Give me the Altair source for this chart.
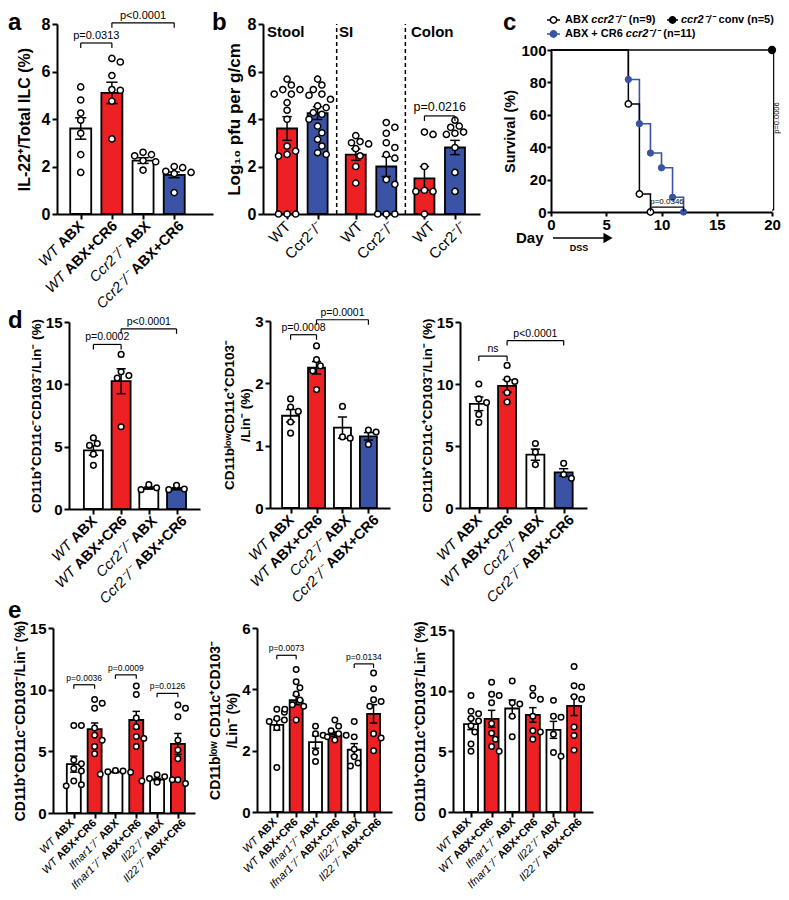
import math
import altair as alt
import pandas as pd

FONT = "Liberation Sans"
CW, CH = 773, 884
M = 8  # page margin: reference pixel -> chart pixel

RED = "#ED2024"
BLUE = "#3A53A4"
FILLS = {"w": "#FFFFFF", "r": RED, "b": BLUE}

# ====================== DATA ======================
# panel a
a_geno = ["WT", "WT", "Ccr2⁻/⁻", "Ccr2⁻/⁻"]
a_treat = ["ABX", "ABX+CR6", "ABX", "ABX+CR6"]
a_fill = ["w", "r", "w", "b"]
a_mean = [3.6, 5.1, 2.25, 1.65]
a_sem = [0.45, 0.45, 0.12, 0.12]
a_pts = [[5.35, 4.8, 4.25, 3.95, 3.4, 2.5, 1.75],
         [6.55, 6.4, 5.83, 5.24, 5.21, 4.75, 3.16],
         [2.6, 2.5, 2.45, 2.25, 2.2, 1.85],
         [2.0, 1.95, 1.8, 1.75, 1.7, 0.9]]
a_brk = [(0, 1, 7.2, "p=0.0313"), (1, 3, 8.05, "p<0.0001")]

# panel b
b_sites = ["Stool", "SI", "Colon"]
b_geno = ["WT", "Ccr2⁻/⁻", "WT", "Ccr2⁻/⁻", "WT", "Ccr2⁻/⁻"]
b_fill = ["r", "b", "r", "b", "r", "b"]
b_mean = [3.6, 4.25, 2.5, 2.0, 1.5, 2.8]
b_sem = [0.5, 0.27, 0.24, 0.42, 0.5, 0.3]
b_pts = [[5.68, 5.43, 5.24, 5.24, 5.05, 5.05, 4.69, 4.37, 3.99, 2.86, 2.65, 2.51, 2.44, 0, 0, 0],
         [5.68, 5.43, 5.24, 5.05, 5.0, 4.83, 4.55, 4.48, 4.27, 4.2, 3.99, 3.7, 3.42, 3.14, 2.86, 2.58, 2.51],
         [3.3, 3.05, 3.0, 2.95, 2.75, 2.45, 2.0, 1.3],
         [3.85, 3.65, 3.4, 3.0, 2.8, 2.5, 2.35, 1.45, 1.25, 0, 0, 0],
         [3.45, 3.35, 2.0, 1.0, 0.95, 0.95, 0],
         [3.95, 3.7, 3.65, 3.45, 3.4, 3.35, 2.8, 1.75, 0.95]]
b_brk = [(4, 5, 4.13, "p=0.0216")]

# panel c (survival, %)
c_abx_day = [0, 7, 8, 9]
c_abx_surv = [100, 66.7, 11.1, 0]
c_cr6_day = [0, 7, 8, 9, 10, 11, 12]
c_cr6_surv = [100, 81.8, 54.5, 36.4, 27.3, 9.1, 0]
c_conv_day = [0, 20]
c_conv_surv = [100, 100]

# panel d
d_geno = ["WT", "WT", "Ccr2⁻/⁻", "Ccr2⁻/⁻"]
d_treat = ["ABX", "ABX+CR6", "ABX", "ABX+CR6"]
d_fill = ["w", "r", "w", "b"]
d1_mean = [4.7, 10.25, 1.68, 1.62]
d1_sem = [0.38, 1.0, 0.09, 0.08]
d1_pts = [[5.7, 5.25, 5.1, 4.4, 3.5], [12.4, 11.0, 10.7, 10.5, 6.6],
          [1.95, 1.7, 1.55], [1.9, 1.6, 1.55]]
d1_brk = [(0, 1, 13.2, "p=0.0002"), (1, 3, 14.45, "p<0.0001")]
d2_mean = [1.48, 2.25, 1.29, 1.15]
d2_sem = [0.1, 0.1, 0.17, 0.06]
d2_pts = [[1.75, 1.62, 1.55, 1.38, 1.2], [2.6, 2.38, 2.28, 2.2, 1.9],
          [1.63, 1.14, 1.12], [1.25, 1.22, 1.02]]
d2_brk = [(0, 1, 2.78, "p=0.0008"), (1, 3, 3.02, "p=0.0001")]
d3_mean = [8.4, 9.85, 4.3, 2.87]
d3_sem = [0.55, 0.5, 0.45, 0.3]
d3_pts = [[10.0, 8.8, 8.5, 7.55, 6.9], [11.5, 10.4, 10.2, 9.3, 8.55],
          [5.2, 4.5, 3.5], [3.6, 2.7, 2.4]]
d3_brk = [(0, 1, 12.25, "ns"), (1, 3, 13.5, "p<0.0001")]

# panel e
e_geno = ["WT", "WT", "Ifnar1⁻/⁻", "Ifnar1⁻/⁻", "Il22⁻/⁻", "Il22⁻/⁻"]
e_treat = ["ABX", "ABX+CR6", "ABX", "ABX+CR6", "ABX", "ABX+CR6"]
e_fill = ["w", "r", "w", "r", "w", "r"]
e1_mean = [3.96, 6.8, 3.34, 7.54, 2.71, 5.6]
e1_sem = [0.65, 0.5, 0.08, 0.7, 0.1, 0.85]
e1_pts = [[7.1, 7.1, 4.3, 4.0, 3.6, 3.4, 2.6, 2.3, 2.2],
          [9.2, 8.9, 8.5, 6.9, 6.3, 5.9, 5.4, 4.8],
          [3.45, 3.4, 3.35, 3.3, 3.15],
          [10.3, 9.6, 7.7, 7.0, 6.2, 6.05, 5.4],
          [3.1, 2.95, 2.8, 2.7, 2.6, 2.5],
          [8.75, 8.5, 7.8, 5.9, 5.1, 4.4, 2.7, 2.4]]
e1_brk = [(0, 1, 10.4, "p=0.0036"), (2, 3, 11.2, "p=0.0009"), (4, 5, 9.7, "p=0.0126")]
e2_mean = [2.84, 3.65, 2.28, 2.54, 2.03, 3.2]
e2_sem = [0.17, 0.15, 0.2, 0.07, 0.2, 0.3]
e2_pts = [[3.35, 3.25, 3.05, 3.0, 2.95, 2.75, 1.45],
          [4.65, 4.25, 4.05, 3.85, 3.65, 3.5, 3.45, 3.35, 3.0],
          [2.8, 2.55, 2.5, 1.95, 1.65],
          [3.0, 2.8, 2.65, 2.55, 2.5, 2.45, 2.35],
          [2.95, 2.45, 2.05, 1.8, 1.6, 1.5],
          [4.53, 4.02, 3.66, 3.6, 3.45, 2.55, 2.41, 2.0]]
e2_brk = [(0, 1, 5.11, "p=0.0073"), (4, 5, 4.83, "p=0.0134")]
e3_mean = [7.24, 7.68, 8.53, 8.0, 6.77, 8.75]
e3_sem = [0.45, 0.7, 0.7, 0.6, 0.7, 0.8]
e3_pts = [[9.6, 8.3, 8.1, 7.7, 7.5, 7.1, 6.6, 5.6, 5.0],
          [10.7, 9.7, 9.6, 9.0, 7.3, 6.5, 6.0, 5.4, 5.0],
          [10.8, 9.0, 8.9, 7.9, 6.2],
          [10.2, 9.6, 9.3, 7.9, 6.7, 6.6, 6.0],
          [9.2, 7.9, 7.8, 6.4, 4.9, 4.6],
          [12.0, 10.4, 10.3, 9.5, 9.3, 7.0, 6.3, 5.1]]
e3_brk = []

# ====================== LAYOUT (reference pixels) ======================
LA = dict(ax=57, end=213, c0=77, sp=33.3, y0=214, yt=24, ymax=8, ticks=[0, 2, 4, 6, 8],
          bw=21, cap=12, diam=7.5, psize=38, leg=5, lfs=16, pfs=11, xfs=14.5, tfs=16, tpad=9)
LB = dict(ax=263, end=480, c0=283, sp=32, y0=214, yt=24, ymax=8, ticks=[0, 2, 4, 6, 8],
          bw=20, cap=10, diam=7.5, psize=38, leg=5, lfs=16, pfs=12.5, xfs=15, tfs=17, tpad=4)
LD1 = dict(ax=69, end=200, c0=90, sp=30, y0=509, yt=322, ymax=15, ticks=[0, 5, 10, 15],
           bw=19, cap=10, diam=7, psize=32, leg=5, lfs=15, pfs=10.5, xfs=14.5, tfs=13.5, tpad=2)
LD2 = dict(ax=270, end=390, c0=287, sp=28.3, y0=508, yt=321, ymax=3, ticks=[0, 1, 2, 3],
           bw=17, cap=10, diam=7, psize=32, leg=5, lfs=15, pfs=10.5, xfs=14.5, tfs=13.5, tpad=2)
LD3 = dict(ax=460, end=587, c0=475, sp=30.7, y0=508, yt=322, ymax=15, ticks=[0, 5, 10, 15],
           bw=18, cap=10, diam=7, psize=32, leg=5, lfs=15, pfs=10.5, xfs=14.5, tfs=13.5, tpad=2)
LE1 = dict(ax=53, end=195, c0=70, sp=22.4, y0=813, yt=628, ymax=15, ticks=[0, 5, 10, 15],
           bw=14, cap=8, diam=6.8, psize=30, leg=4, lfs=15, pfs=8.5, xfs=11, tfs=14, tpad=2)
LE2 = dict(ax=257, end=392, c0=273, sp=20.9, y0=812, yt=628, ymax=6, ticks=[0, 2, 4, 6],
           bw=13, cap=8, diam=6.8, psize=30, leg=4, lfs=15, pfs=8.5, xfs=11, tfs=14, tpad=2)
LE3 = dict(ax=453, end=593, c0=467, sp=22.2, y0=812, yt=630, ymax=15, ticks=[0, 5, 10, 15],
           bw=14, cap=8, diam=6.8, psize=30, leg=4, lfs=15, pfs=8.5, xfs=11, tfs=14, tpad=2)

C45 = math.cos(math.radians(45))

REG_W = {' ': 278, '(': 333, ')': 333, '+': 584, '-': 333, '.': 278, '/': 278, '=': 584,
         '<': 584, '%': 889, 'A': 667, 'B': 667, 'C': 722, 'D': 722, 'I': 278, 'L': 556,
         'R': 722, 'S': 667, 'T': 611, 'W': 944, 'X': 667, 'a': 556, 'b': 556, 'c': 500,
         'e': 556, 'f': 278, 'g': 556, 'i': 222, 'l': 222, 'm': 833, 'n': 556, 'o': 556,
         'p': 556, 'r': 333, 's': 500, 't': 278, 'u': 556, 'v': 500, 'w': 722, 'y': 500,
         '⁻': 400, '⁺': 400}
BOLD_W = {' ': 278, '(': 333, ')': 333, '+': 584, '-': 333, '.': 278, '/': 278, '=': 584,
          '<': 584, '%': 889, 'A': 722, 'B': 722, 'C': 722, 'D': 722, 'I': 278, 'L': 611,
          'R': 722, 'S': 667, 'T': 611, 'W': 944, 'X': 667, 'a': 556, 'b': 611, 'c': 556,
          'e': 556, 'f': 333, 'g': 611, 'i': 278, 'l': 278, 'm': 889, 'n': 611, 'o': 611,
          'p': 611, 'r': 389, 's': 556, 't': 333, 'u': 611, 'v': 556, 'w': 778, 'y': 556,
          '⁻': 400, '⁺': 400}


def tw(s, size, bold=False):
    t = BOLD_W if bold else REG_W
    return sum(t.get(ch, 556) for ch in s) * size / 1000.0


def swarm(vals, ppu, sp, diam):
    order = sorted(range(len(vals)), key=lambda k: -vals[k])
    placed, offs = [], [0.0] * len(vals)
    step = diam * 0.6
    cands = [0.0]
    for k in range(1, 12):
        cands += [k * step, -k * step]
    for k in order:
        yk = vals[k] * ppu
        chosen = cands[-1]
        for c in cands:
            if all((c - o) ** 2 + (yk - yy) ** 2 >= (0.95 * diam) ** 2 for o, yy in placed):
                chosen = c
                break
        placed.append((chosen, yk))
        offs[k] = chosen / sp
    return offs


def text_layers(items):
    groups = {}
    for it in items:
        key = (it.get("bold", False), it.get("italic", False), it.get("align", "left"),
               it.get("baseline", "alphabetic"), it.get("angle", 0))
        groups.setdefault(key, []).append(it)
    layers = []
    for (bold, italic, align, baseline, angle), its in groups.items():
        df = pd.DataFrame({"px": [i["px"] - M for i in its], "py": [i["py"] - M for i in its],
                           "text": [i["text"] for i in its], "size": [i["size"] for i in its]})
        kw = dict(font=FONT, align=align, baseline=baseline, color="black",
                  fontWeight="bold" if bold else "normal",
                  fontStyle="italic" if italic else "normal")
        if angle:
            kw["angle"] = angle
        layers.append(alt.Chart(df).mark_text(**kw).encode(
            x=alt.X("px:Q", scale=None, axis=None),
            y=alt.Y("py:Q", scale=None, axis=None),
            text="text:N",
            size=alt.Size("size:Q", scale=None, legend=None)))
    return layers


def seq_text(x, y, pieces, size, baseline="middle"):
    items, cur = [], x
    for text, bold, italic in pieces:
        lead = len(text) - len(text.lstrip(" "))
        trail = len(text) - len(text.rstrip(" "))
        cur += lead * tw(" ", size, bold)
        core = text.strip(" ")
        items.append(dict(px=cur, py=y, text=core, size=size, bold=bold, italic=italic,
                          align="left", baseline=baseline))
        cur += tw(core, size, bold) + trail * tw(" ", size, bold)
    return items


def xlabels(L, pos, geno, treat, dx, dy):
    items = []
    fs = L["xfs"]
    for p, g, t in zip(pos, geno, treat):
        ax = L["c0"] + p * L["sp"] + dx
        ay = L["y0"] + dy
        items.append(dict(px=ax, py=ay, text=t, size=fs, bold=True, align="right",
                          baseline="middle", angle=315))
        Lw = tw(t, fs, True) + tw(" ", fs)
        items.append(dict(px=ax - Lw * C45, py=ay + Lw * C45, text=g, size=fs, italic=True,
                          align="right", baseline="middle", angle=315))
    return items


AXC = dict(grid=False, domainColor="black", domainWidth=2, tickColor="black", tickWidth=2)


def enc(ch, f, scale, axis=None, **k):
    if axis is not None:
        k["axis"] = axis
    return ch(f"{f}:Q", scale=scale, **k)


def bar_panel(L, pos, means, sems, fills, pts, brk, ytitle, dividers=None):
    xs = alt.Scale(domain=[(L["ax"] - L["c0"]) / L["sp"], (L["end"] - L["c0"]) / L["sp"]],
                   range=[L["ax"] - M, L["end"] - M], nice=False, zero=False)
    ys = alt.Scale(domain=[0, L["ymax"]], range=[L["y0"] - M, L["yt"] - M], nice=False, zero=False)
    ppu = (L["y0"] - L["yt"]) / L["ymax"]
    yaxis = alt.Axis(orient="left", offset=-(L["ax"] - M), values=L["ticks"], title=ytitle,
                     labelFont=FONT, labelFontSize=L["lfs"], labelFontWeight="bold",
                     labelColor="black", labelPadding=2, labelOverlap=False, labelFlush=False,
                     titleFont=FONT, titleFontSize=L["tfs"], titleFontWeight="bold",
                     titleColor="black", titlePadding=L["tpad"], titleLineHeight=L["tfs"] + 3,
                     format="d", tickSize=5, **AXC)
    xaxis = alt.Axis(orient="bottom", offset=(L["y0"] - M) - CH, values=list(pos),
                     labels=False, title=None, tickSize=5, **AXC)

    def X(f, axis=None):
        return enc(alt.X, f, xs, axis)

    def Y(f, axis=None, **k):
        return enc(alt.Y, f, ys, axis, **k)

    bars_df = pd.DataFrame({"x": pos, "y": means, "fill": [FILLS[f] for f in fills]})
    bars = alt.Chart(bars_df).mark_bar(width=L["bw"], stroke="black", strokeWidth=1.8,
                                       orient="vertical").encode(
        x=X("x", xaxis), y=Y("y", yaxis, stack=None), fill=alt.Fill("fill:N", scale=None))
    layers = [bars]
    if dividers:
        dv = pd.DataFrame({"x": dividers, "y": [0] * len(dividers),
                           "y2": [L["ymax"]] * len(dividers)})
        layers.append(alt.Chart(dv).mark_rule(color="black", strokeWidth=1.5,
                                              strokeDash=[4, 3]).encode(
            x=X("x"), y=Y("y"), y2="y2:Q"))
    err_df = pd.DataFrame({"x": pos, "lo": [m - s for m, s in zip(means, sems)],
                           "hi": [m + s for m, s in zip(means, sems)]})
    layers.append(alt.Chart(err_df).mark_rule(color="black", strokeWidth=1.5).encode(
        x=X("x"), y=Y("lo"), y2="hi:Q"))
    cw = L["cap"] / 2 / L["sp"]
    caps_df = pd.DataFrame({
        "x1": [p - cw for p in pos] * 2, "x2": [p + cw for p in pos] * 2,
        "y": [m + s for m, s in zip(means, sems)] + [m - s for m, s in zip(means, sems)]})
    layers.append(alt.Chart(caps_df).mark_rule(color="black", strokeWidth=1.5).encode(
        x=X("x1"), x2="x2:Q", y=Y("y")))
    px, py = [], []
    for p, vals in zip(pos, pts):
        offs = swarm(vals, ppu, L["sp"], L["diam"])
        px += [p + o for o in offs]
        py += list(vals)
    dots = alt.Chart(pd.DataFrame({"x": px, "y": py})).mark_point(
        shape="circle", filled=True, fill="white", stroke="black", strokeWidth=1.5,
        size=L["psize"], opacity=1).encode(x=X("x"), y=Y("y"))
    layers.append(dots)
    if brk:
        leg = L["leg"] / ppu
        h = pd.DataFrame({"x1": [pos[b[0]] for b in brk], "x2": [pos[b[1]] for b in brk],
                          "y": [b[2] for b in brk]})
        v = pd.DataFrame({"x": [pos[b[0]] for b in brk] + [pos[b[1]] for b in brk],
                          "y": [b[2] for b in brk] * 2,
                          "y2": [b[2] - leg for b in brk] * 2})
        t = pd.DataFrame({"x": [(pos[b[0]] + pos[b[1]]) / 2 for b in brk],
                          "y": [b[2] for b in brk], "text": [b[3] for b in brk]})
        layers.append(alt.Chart(h).mark_rule(color="black", strokeWidth=1.2).encode(
            x=X("x1"), x2="x2:Q", y=Y("y")))
        layers.append(alt.Chart(v).mark_rule(color="black", strokeWidth=1.2).encode(
            x=X("x"), y=Y("y"), y2="y2:Q"))
        layers.append(alt.Chart(t).mark_text(font=FONT, fontSize=L["pfs"], baseline="bottom",
                                             dy=-2, color="black").encode(
            x=X("x"), y=Y("y"), text="text:N"))
    return alt.layer(*layers)


# ---------------- panel c ----------------
def survival_panel():
    xs = alt.Scale(domain=[0, 20], range=[551 - M, 772 - M], nice=False, zero=False)
    ys = alt.Scale(domain=[0, 100], range=[212 - M, 50 - M], nice=False, zero=False)
    com = dict(tickSize=4, labelFont=FONT, labelFontSize=15,
               labelFontWeight="bold", labelColor="black", labelOverlap=False,
               labelFlush=False, labelPadding=1, **AXC)
    xaxis = alt.Axis(orient="bottom", offset=(212 - M) - CH, values=[0, 5, 10, 15, 20],
                     title=None, **com)
    yaxis = alt.Axis(orient="left", offset=-(551 - M), values=[0, 20, 40, 60, 80, 100],
                     title="Survival (%)", titleFont=FONT, titleFontSize=14.5,
                     titleFontWeight="bold", titleColor="black", titlePadding=3, **com)

    def X(f, axis=None):
        return enc(alt.X, f, xs, axis)

    def Y(f, axis=None):
        return enc(alt.Y, f, ys, axis)

    cr6 = pd.DataFrame({"d": c_cr6_day, "s": c_cr6_surv})
    abx = pd.DataFrame({"d": c_abx_day, "s": c_abx_surv})
    conv = pd.DataFrame({"d": c_conv_day, "s": c_conv_surv})
    layers = [
        alt.Chart(cr6).mark_line(interpolate="step-after", color=BLUE, strokeWidth=1.6).encode(
            x=X("d", xaxis), y=Y("s", yaxis)),
        alt.Chart(abx).mark_line(interpolate="step-after", color="black", strokeWidth=1.5).encode(
            x=X("d"), y=Y("s")),
        alt.Chart(conv).mark_line(color="black", strokeWidth=1.5).encode(x=X("d"), y=Y("s")),
        alt.Chart(abx.iloc[1:]).mark_point(shape="circle", filled=True, fill="white",
                                           stroke="black", strokeWidth=1.5, size=40,
                                           opacity=1).encode(x=X("d"), y=Y("s")),
        alt.Chart(cr6.iloc[1:]).mark_point(shape="circle", filled=True, fill=BLUE,
                                           stroke=BLUE, strokeWidth=1, size=40,
                                           opacity=1).encode(x=X("d"), y=Y("s")),
        alt.Chart(conv.iloc[1:]).mark_point(shape="circle", filled=True, fill="black",
                                            stroke="black", size=40, opacity=1).encode(
            x=X("d"), y=Y("s")),
    ]
    hb = pd.DataFrame({"x1": [9, 20, 20], "x2": [12, 20.15, 20.15], "y": [3, 100, 1.2]})
    vb = pd.DataFrame({"x": [9, 12, 20.15], "y": [3, 3, 100], "y2": [0.5, 0.5, 1.2]})
    layers.append(alt.Chart(hb).mark_rule(color="black", strokeWidth=1.2).encode(
        x=X("x1"), x2="x2:Q", y=Y("y")))
    layers.append(alt.Chart(vb).mark_rule(color="black", strokeWidth=1.2).encode(
        x=X("x"), y=Y("y"), y2="y2:Q"))
    layers.append(alt.Chart(pd.DataFrame({"x": [10.5], "y": [3], "t": ["p=0.0346"]})).mark_text(
        font=FONT, fontSize=8, baseline="bottom", dy=-1, color="black").encode(
        x=X("x"), y=Y("y"), text="t:N"))
    layers.append(alt.Chart(pd.DataFrame({"x": [20.45], "y": [58], "t": ["p=0.0006"]})).mark_text(
        font=FONT, fontSize=7.5, baseline="middle", align="center", angle=270,
        color="black").encode(x=X("x"), y=Y("y"), text="t:N"))
    return alt.layer(*layers)


# ---------------- build panels ----------------
pos4 = [0, 1, 2, 3]
pos6 = [0, 1, 2, 3, 4, 5]
b_pos = [g * 2.25 + m for g in range(3) for m in range(2)]
b_div = [(b_pos[1] + b_pos[2]) / 2, (b_pos[3] + b_pos[4]) / 2]

T_D1 = "CD11b⁺CD11c⁻CD103⁻/Lin⁻ (%)"
T_D2 = ["CD11bˡᵒʷCD11c⁺CD103⁻", "/Lin⁻ (%)"]
T_D3 = "CD11b⁺CD11c⁺CD103⁻/Lin⁻ (%)"
T_E2 = ["CD11bˡᵒʷ CD11c⁺CD103⁻", "/Lin⁻ (%)"]

panels = [
    bar_panel(LA, pos4, a_mean, a_sem, a_fill, a_pts, a_brk, "IL-22⁺/Total ILC (%)"),
    bar_panel(LB, b_pos, b_mean, b_sem, b_fill, b_pts, b_brk, "Log₁₀ pfu per g/cm", b_div),
    survival_panel(),
    bar_panel(LD1, pos4, d1_mean, d1_sem, d_fill, d1_pts, d1_brk, T_D1),
    bar_panel(LD2, pos4, d2_mean, d2_sem, d_fill, d2_pts, d2_brk, T_D2),
    bar_panel(LD3, pos4, d3_mean, d3_sem, d_fill, d3_pts, d3_brk, T_D3),
    bar_panel(LE1, pos6, e1_mean, e1_sem, e_fill, e1_pts, e1_brk, T_D1),
    bar_panel(LE2, pos6, e2_mean, e2_sem, e_fill, e2_pts, e2_brk, T_E2),
    bar_panel(LE3, pos6, e3_mean, e3_sem, e_fill, e3_pts, e3_brk, T_D3),
]

# ---------------- overlay text (pixel positions) ----------------
items = []
for letter, (x, y) in zip("abcde", [(8, 30), (212, 30), (503, 30), (8, 328), (8, 618)]):
    items.append(dict(px=x, py=y, text=letter, size=24, bold=True))
items += xlabels(LA, pos4, a_geno, a_treat, 5, 10)
items += xlabels(LD1, pos4, d_geno, d_treat, 5, 10)
items += xlabels(LD2, pos4, d_geno, d_treat, 5, 10)
items += xlabels(LD3, pos4, d_geno, d_treat, 5, 10)
items += xlabels(LE1, pos6, e_geno, e_treat, 2.5, 8.5)
items += xlabels(LE2, pos6, e_geno, e_treat, 2.5, 8.5)
items += xlabels(LE3, pos6, e_geno, e_treat, 2.5, 8.5)
for p, g in zip(b_pos, b_geno):
    items.append(dict(px=LB["c0"] + p * LB["sp"] + 5, py=LB["y0"] + 10, text=g,
                      size=LB["xfs"], align="right", baseline="middle", angle=315))
for s, p in zip(b_sites, [b_pos[0], b_pos[2], b_pos[4]]):
    items.append(dict(px=LB["c0"] + p * LB["sp"] - 16, py=37, text=s, size=15, bold=True))
# survival legend + day arrow
items += seq_text(565, 20, [("ABX ", True, False), ("ccr2⁻/⁻", True, True), (" (n=9)", True, False)], 11)
items += seq_text(681, 20, [("ccr2⁻/⁻", True, True), (" conv (n=5)", True, False)], 11)
items += seq_text(565, 34, [("ABX + CR6 ", True, False), ("ccr2⁻/⁻", True, True), (" (n=11)", True, False)], 11)
items.append(dict(px=516, py=243, text="Day", size=15, bold=True))
items.append(dict(px=579, py=251, text="DSS", size=9, bold=True, align="center"))

overlay = text_layers(items)

seg = pd.DataFrame({"x1": [547, 667, 547, 553], "x2": [560, 678, 560, 604],
                    "y": [20, 20, 34, 238], "c": ["black", "black", BLUE, "black"]})
seg[["x1", "x2"]] -= M
seg["y"] -= M
overlay.append(alt.Chart(seg).mark_rule(strokeWidth=1.5).encode(
    x=alt.X("x1:Q", scale=None, axis=None), x2="x2:Q",
    y=alt.Y("y:Q", scale=None, axis=None), color=alt.Color("c:N", scale=None, legend=None)))
sym = pd.DataFrame({"x": [553.5, 672.5, 553.5], "y": [20, 20, 34],
                    "f": ["white", "black", BLUE], "s": ["black", "black", BLUE]})
sym["x"] -= M
sym["y"] -= M
overlay.append(alt.Chart(sym).mark_point(shape="circle", filled=True, size=40, opacity=1,
                                         strokeWidth=1.5).encode(
    x=alt.X("x:Q", scale=None, axis=None), y=alt.Y("y:Q", scale=None, axis=None),
    fill=alt.Fill("f:N", scale=None, legend=None),
    stroke=alt.Stroke("s:N", scale=None, legend=None)))
arrow = pd.DataFrame({"x": [608 - M], "y": [238 - M]})
overlay.append(alt.Chart(arrow).mark_point(shape="triangle-right", filled=True, size=110,
                                           color="black", opacity=1).encode(
    x=alt.X("x:Q", scale=None, axis=None), y=alt.Y("y:Q", scale=None, axis=None)))

chart = alt.layer(*panels, *overlay).resolve_scale(
    x="independent", y="independent"
).properties(
    width=CW, height=CH, padding=0, background="white",
    autosize=alt.AutoSizeParams(type="none"),
).configure_view(stroke=None)

chart.save("out.html", embed_options={"renderer": "svg", "actions": False})
